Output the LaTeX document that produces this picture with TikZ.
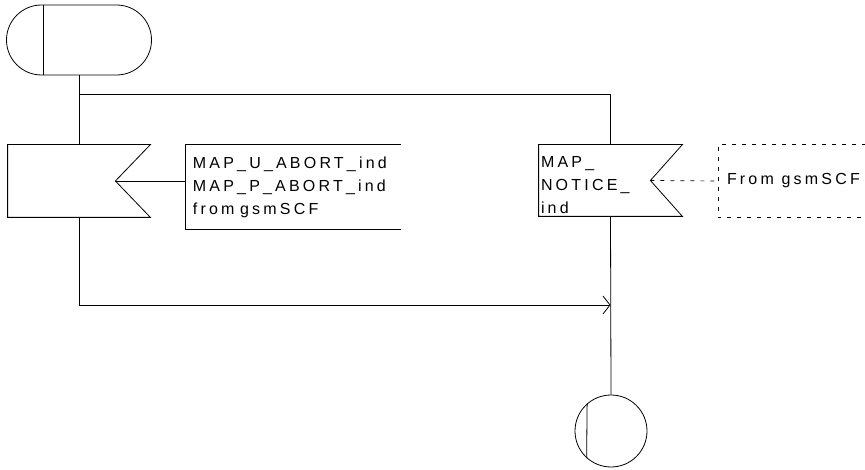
\documentclass[tikz,border=0pt]{standalone}
\usepackage{fontspec}
\setmainfont{Liberation Sans}[LetterSpace=20]
\usetikzlibrary{arrows.meta,positioning,calc}

\begin{document}
\begin{tikzpicture}[
    x=1pt,y=-1pt,
    line width=0.8pt,
    every node/.style={font=\fontsize{16}{23}\selectfont},
    sigbox/.style={draw=none,minimum width=142,minimum height=72,inner sep=0pt},
    terminal/.style={draw,rounded corners=35,minimum width=145,minimum height=70,inner sep=0pt},
    stopper/.style={draw,circle,minimum size=72,inner sep=0pt},
    note/.style={align=left,inner sep=0pt,anchor=west},
    faint/.style={dash pattern=on 4pt off 6pt,line width=0.7pt},
    >={Straight Barb[length=7pt,width=18pt]}
  ]
    \useasboundingbox (0,0) rectangle (865,470);

    % start and stop
    \node[terminal] (start) at (79,40) {};
    \draw ($(start.north west)+(37,0)$) -- ($(start.south west)+(37,0)$);
    \node[stopper] (stop) at (611,431) {};
    \draw (stop.131.8) -- (stop.228.2);

    % input on the left
    \node[sigbox] (abort) at (79,181) {};
    \coordinate (abortnotch) at ($(abort.east)+(-35,0)$);
    \draw (abort.north west) -- (abort.north east) -- (abortnotch)
      -- (abort.south east) -- (abort.south west) -- cycle;
    \node[note,minimum width=215,minimum height=84,text width=210] (abortnote) at (185,187)
      {\hspace*{5pt}MAP\_U\_ABORT\_ind\\\hspace*{5pt}MAP\_P\_ABORT\_ind\\\hspace*{5pt}from\hspace{0.35em}gsmSCF};
    \draw (abortnote.north east) -- (abortnote.north west)
      -- (abortnote.south west) -- (abortnote.south east);

    % input on the right
    \node[sigbox,minimum width=143,minimum height=71] (notice) at (610.5,180.5) {};
    \coordinate (noticenotch) at ($(notice.east)+(-32,0)$);
    \draw (notice.north west) -- (notice.north east) -- (noticenotch)
      -- (notice.south east) -- (notice.south west) -- cycle;
    \node[note,anchor=south west,xshift=2pt,yshift=2pt] (noticetext) at (notice.south west)
      {MAP\_\\NOTICE\_\\ind};
    \node[note,minimum height=72,minimum width=147] (from) at (718,181)
      {\hspace*{3pt}From gsmSCF};
    \draw[faint] (from.north east) -- (from.north west)
      -- (from.south west) -- (from.south east);

    % connectors
    \coordinate (split) at (79,94);
    \coordinate (merge) at (610.5,305);
    \draw (start.south) -- (abort.north);
    \draw (split) -| (notice.north);
    \draw (abortnotch) -- (abortnotch -| abortnote.west);
    \draw[faint] (noticenotch) -- (from.west);
    \draw[->] (abort.south) |- (merge);
    \draw (notice.south) -- (stop.north);
  \end{tikzpicture}
\end{document}
